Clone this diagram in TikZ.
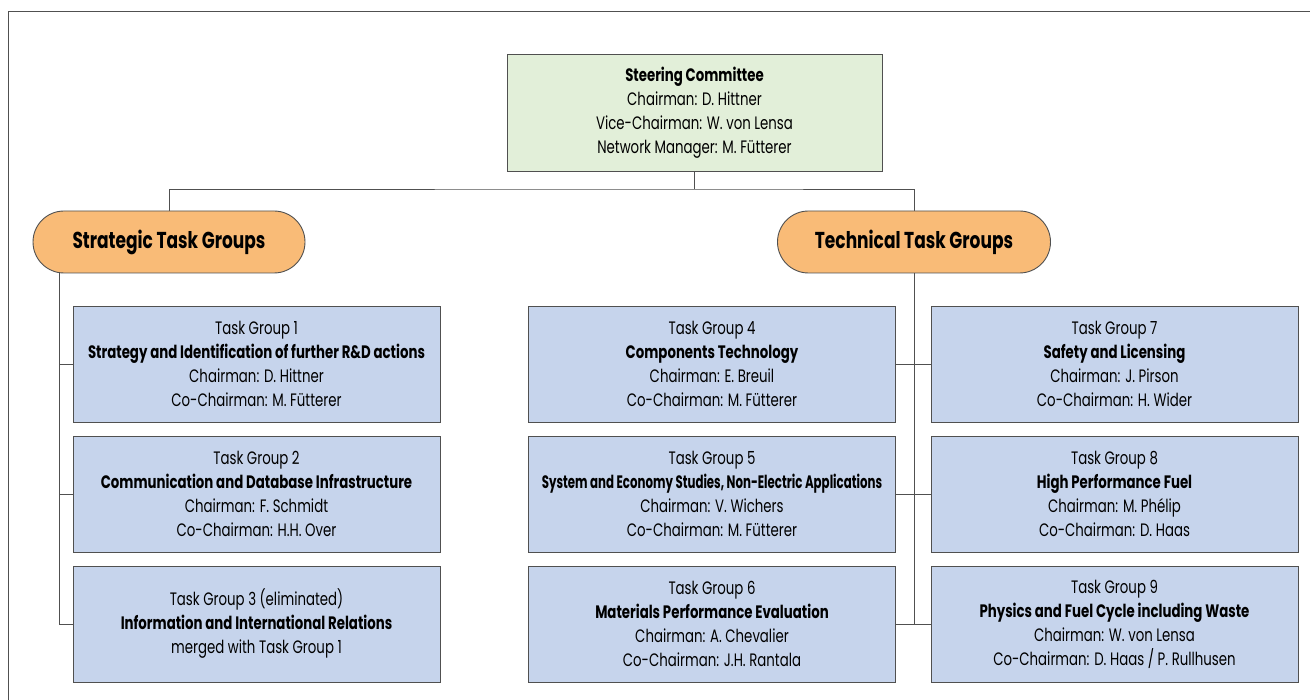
\documentclass[tikz,border=0pt]{standalone}
\usepackage{fontspec}
\usepackage{graphicx}
\setmainfont{Poppins}[FakeStretch=0.74]
\usetikzlibrary{backgrounds}
\definecolor{scgreen}{HTML}{E2EFD9}
\definecolor{tgblue}{HTML}{C6D4EC}
\definecolor{pillor}{HTML}{F9BB77}
\definecolor{edge}{HTML}{505050}
\tikzset{
  tgbox/.style={draw=edge, line width=0.9pt, fill=tgblue, minimum width=367pt, minimum height=116pt, align=center, inner sep=0pt, font=\fontsize{18}{24}\selectfont},
  scbox/.style={draw=edge, line width=0.9pt, fill=scgreen, minimum width=375pt, minimum height=117pt, align=center, inner sep=0pt, font=\fontsize{18}{24}\selectfont},
  pill/.style={draw=edge, line width=0.9pt, fill=pillor, minimum width=272pt, minimum height=62pt, rounded corners=31pt, inner sep=0pt, font=\fontsize{23}{26}\selectfont\bfseries},
  conn/.style={draw=edge, line width=0.9pt}
}
\begin{document}
\begin{tikzpicture}[x=1pt,y=-1pt]
\useasboundingbox (0,0) rectangle (1310,700);
\draw[conn] (8,700) -- (8,11) -- (1310,11);
\node[scbox] (sc) at (694.5,112.5) {\textbf{Steering Committee}\\Chairman: D. Hittner\\Vice-Chairman: W. von Lensa\\Network Manager: M. Fütterer};
\node[pill] (stg) at (169,242) {Strategic Task Groups};
\node[pill, minimum width=273pt] (tec) at (914,242) {Technical Task Groups};
\node[tgbox] (tg1) at (256.5,364) {Task Group 1\\\textbf{Strategy and Identification of further R\&D actions}\\Chairman: D. Hittner\\Co-Chairman: M. Fütterer};
\node[tgbox] (tg2) at (256.5,494) {Task Group 2\\\textbf{Communication and Database Infrastructure}\\Chairman: F. Schmidt\\Co-Chairman: H.H. Over};
\node[tgbox] (tg3) at (256.5,624) {Task Group 3 (eliminated)\\\textbf{Information and International Relations}\\merged with Task Group 1};
\node[tgbox] (tg4) at (712,364) {Task Group 4\\\textbf{Components Technology}\\Chairman: E. Breuil\\Co-Chairman: M. Fütterer};
\node[tgbox] (tg5) at (712,494) {Task Group 5\\\scalebox{0.885}[1]{\textbf{System and Economy Studies, Non-Electric Applications}}\\Chairman: V. Wichers\\Co-Chairman: M. Fütterer};
\node[tgbox] (tg6) at (712,624) {Task Group 6\\\textbf{Materials Performance Evaluation}\\Chairman: A. Chevalier\\Co-Chairman: J.H. Rantala};
\node[tgbox] (tg7) at (1114.5,364) {Task Group 7\\\textbf{Safety and Licensing}\\Chairman: J. Pirson\\Co-Chairman: H. Wider};
\node[tgbox] (tg8) at (1114.5,494) {Task Group 8\\\textbf{High Performance Fuel}\\Chairman: M. Phélip\\Co-Chairman: D. Haas};
\node[tgbox] (tg9) at (1114.5,624) {Task Group 9\\\textbf{Physics and Fuel Cycle including Waste}\\Chairman: W. von Lensa\\Co-Chairman: D. Haas / P. Rullhusen};
\coordinate (bus) at (694.5,189);
\coordinate (lt) at (59,262);
\begin{scope}[on background layer]
\draw[conn] (sc.south) -- (bus);
\draw[conn] (stg.north) |- (bus) -| (tec.north);
\draw[conn] (lt) |- (tg3.west);
\draw[conn] (tg1.west) -- (tg1.west -| lt);
\draw[conn] (tg2.west) -- (tg2.west -| lt);
\draw[conn] (tec.south) -- (tec.south |- tg9.west);
\draw[conn] (tg4.east) -- (tg7.west);
\draw[conn] (tg5.east) -- (tg8.west);
\draw[conn] (tg6.east) -- (tg9.west);
\end{scope}
\end{tikzpicture}
\end{document}
